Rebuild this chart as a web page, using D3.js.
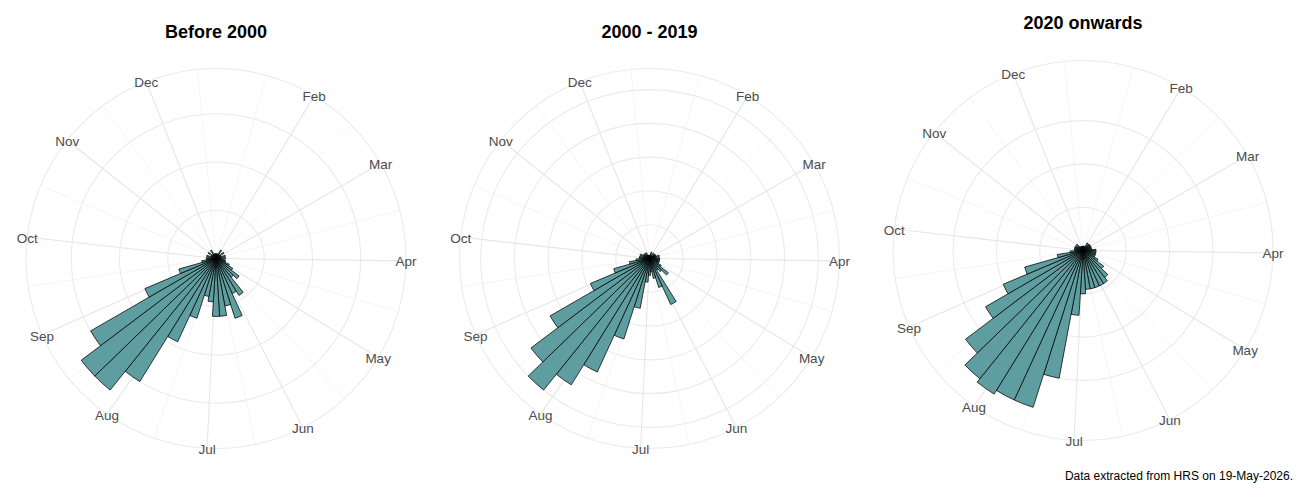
<!DOCTYPE html>
<html><head><meta charset="utf-8">
<script src="https://cdn.jsdelivr.net/npm/d3@7"></script>
<style>
body{margin:0;background:#fff}
svg{display:block}
text{font-family:"Liberation Sans",Arial,sans-serif}
</style>
</head><body>
<svg id="chart" width="1300" height="500"></svg>
<script>
// ---- data ----
const weekBins = d3.range(51);               // weekly bins around the year
const monthLabels = ["Feb","Mar","Apr","May","Jun","Jul","Aug","Sep","Oct","Nov","Dec"];
const monthPositions = [4.41, 8.5, 12.85, 17.2, 21.65, 25.88, 30.46, 34.89, 39.17, 43.7, 47.95]; // in week units
const minorPositions = [2.18, 6.42, 10.67, 15.05, 19.44, 23.81, 28.2, 32.67, 37.05, 41.44, 45.81, 50.2];
const panelTitles = ["Before 2000", "2000 - 2019", "2020 onwards"];
const countsBefore2000 = [1,1,1,1,2,1,1,2,1,1,2,1,2,1,2,2,3,4,6,5,9,8,13,10,12,12,9,8,13,19,30,35,35,30,16,8,3,2,2,1,2,1,1,2,1,1,2,1,1,1,1];
const counts2000to2019 = [1,1,2,1,1,2,1,2,2,2,3,2,3,3,3,3,3,4,7,5,4,15,9,6,4,5,7,15,25,37,44,50,44,34,19,11,6,4,3,3,2,3,2,2,2,1,2,1,1,1,1];
const counts2020on    = [1,1,1,1,2,1,2,2,2,2,2,2,3,3,3,3,3,4,6,8,9,9,9,9,9,10,15,30,38,38,39,38,34,26,20,14,6,3,2,2,2,2,2,1,2,1,1,1,1,1,1];
const radialBreaks = [[10,20,30],[10,20,30,40,50],[10,20,30]];
const captionText = "Data extracted from HRS on 19-May-2026.";

// ---- layout ----
const svg = d3.select("#chart");
const panels = [
  {cx: 216, cy: 258.5, ty: 38, title: panelTitles[0], values: countsBefore2000, breaks: radialBreaks[0]},
  {cx: 649.5, cy: 258.5, ty: 38, title: panelTitles[1], values: counts2000to2019, breaks: radialBreaks[1]},
  {cx: 1083, cy: 250.5, ty: 29, title: panelTitles[2], values: counts2020on, breaks: radialBreaks[2]}
];
const unit = 422.2;            // panel size in px (npc)
const outerR = 0.45 * unit;    // grid / label radius
const barMaxR = 0.40 * unit;   // data range radius

const theta = d3.scaleLinear().domain([0, weekBins.length]).range([0, 2 * Math.PI]);

panels.forEach(p => {
  const g = svg.append("g").attr("transform", `translate(${p.cx},${p.cy})`);
  const r = d3.scaleLinear().domain([0, d3.max(p.values)]).range([0, barMaxR]);

  // minor spokes
  g.selectAll(".minor").data(minorPositions).join("line")
    .attr("x1", 0).attr("y1", 0)
    .attr("x2", d => outerR * Math.sin(theta(d)))
    .attr("y2", d => -outerR * Math.cos(theta(d)))
    .attr("stroke", "#f1f1f1").attr("stroke-width", 0.7);
  // circles
  g.selectAll(".circ").data(p.breaks.map(b => r(b)).concat([outerR])).join("circle")
    .attr("r", d => d).attr("fill", "none")
    .attr("stroke", "#ebebeb").attr("stroke-width", 1.1);
  // major spokes
  g.selectAll(".major").data(monthPositions).join("line")
    .attr("x1", 0).attr("y1", 0)
    .attr("x2", d => outerR * Math.sin(theta(d)))
    .attr("y2", d => -outerR * Math.cos(theta(d)))
    .attr("stroke", "#e6e6e6").attr("stroke-width", 1.1);

  // bars
  const arc = d3.arc().innerRadius(0)
    .startAngle(d => theta(d.i)).endAngle(d => theta(d.i + 1))
    .outerRadius(d => r(d.v));
  g.selectAll(".bar").data(weekBins.map(i => ({i, v: p.values[i]}))).join("path")
    .attr("d", arc)
    .attr("fill", "#5F9EA0").attr("stroke", "#000").attr("stroke-width", 0.75)
    .attr("stroke-linejoin", "miter");

  // month labels
  g.selectAll(".lab").data(monthLabels).join("text")
    .attr("x", (d, k) => outerR * Math.sin(theta(monthPositions[k])))
    .attr("y", (d, k) => -outerR * Math.cos(theta(monthPositions[k])) + 5.6)
    .attr("text-anchor", "middle")
    .attr("font-size", "13.5px").attr("fill", "#4d4d4d")
    .text(d => d);

  // title
  svg.append("text").attr("x", p.cx).attr("y", p.ty)
    .attr("text-anchor", "middle").attr("font-size", "18px").attr("font-weight", "bold")
    .attr("fill", "#000").text(p.title);
});

svg.append("text").attr("x", 1293).attr("y", 480).attr("text-anchor", "end")
  .attr("font-size", "12px").attr("fill", "#000").text(captionText);
</script>
</body></html>
